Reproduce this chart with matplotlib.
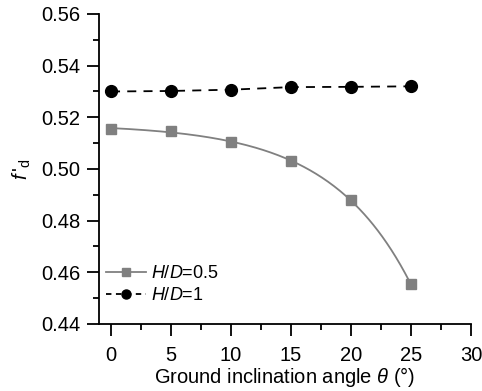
import numpy as np
import matplotlib
matplotlib.use('Agg')
import matplotlib.pyplot as plt
from matplotlib.ticker import MultipleLocator, FormatStrFormatter

plt.rcParams['font.family'] = ['Liberation Sans', 'DejaVu Sans']
plt.rcParams['mathtext.fontset'] = 'custom'
plt.rcParams['mathtext.rm'] = 'Liberation Sans'
plt.rcParams['mathtext.it'] = 'Liberation Sans:italic'

# data
angle = [0, 5, 10, 15, 20, 25]
fd_hd05 = [0.5156, 0.5146, 0.5106, 0.5029, 0.4880, 0.4553]
fd_hd1 = [0.5300, 0.5302, 0.5307, 0.5317, 0.5318, 0.5320]

fig = plt.figure(figsize=(4.82, 3.91), dpi=100)
ax = fig.add_axes([0.2054, 0.1714, 0.7716, 0.7928])

# smooth fit through the H/D=0.5 points: y = a - b*exp(c*x)
x = np.array(angle, dtype=float)
y = np.array(fd_hd05)
best = None
for c in np.linspace(0.05, 0.3, 251):
    A = np.column_stack([np.ones_like(x), np.exp(c * x)])
    sol, res, _, _ = np.linalg.lstsq(A, y, rcond=None)
    err = np.sum((A @ sol - y) ** 2)
    if best is None or err < best[0]:
        best = (err, c, sol)
_, c, sol = best
xs = np.linspace(0, 25, 200)
ax.plot(xs, sol[0] + sol[1] * np.exp(c * xs), color='#808080', lw=1.3)
ax.plot(angle, fd_hd05, 's', color='#808080', ms=7.5)

ax.plot(angle, fd_hd1, '--o', color='black', ms=8.5, lw=1.3, dashes=(5, 4))

h05, = ax.plot([], [], '-s', color='#808080', ms=5.5, lw=1.3)
h1, = ax.plot([], [], '--o', color='black', ms=6.5, lw=1.3, dashes=(3, 2.5))
ax.legend([h05, h1], ['$H/D$=0.5', '$H/D$=1'], loc='lower left',
          bbox_to_anchor=(-0.01, 0.03), frameon=False, fontsize=13,
          handlelength=2.2, handletextpad=0.3, labelspacing=0.25,
          borderaxespad=0.2)

ax.set_xlim(-1, 30)
ax.set_ylim(0.44, 0.56)
ax.xaxis.set_major_locator(MultipleLocator(5))
ax.xaxis.set_minor_locator(MultipleLocator(2.5))
ax.yaxis.set_major_locator(MultipleLocator(0.02))
ax.yaxis.set_minor_locator(MultipleLocator(0.01))
ax.yaxis.set_major_formatter(FormatStrFormatter('%.2f'))

for s in ['top', 'right']:
    ax.spines[s].set_visible(False)
for s in ['left', 'bottom']:
    ax.spines[s].set_linewidth(1.3)

ax.tick_params(which='major', direction='out', length=8.5, width=1.3,
               labelsize=14.5)
ax.tick_params(axis='x', which='major', pad=7)
ax.tick_params(axis='y', which='major', pad=5)
ax.tick_params(which='minor', direction='out', length=4, width=1.3)

ax.set_xlabel(r'Ground inclination angle $\theta$ (°)', fontsize=14.5, labelpad=0)
ax.set_ylabel(r"$f\,'_{\rm d}$", fontsize=14.5, labelpad=6)

fig.savefig('out.png', dpi=100)
